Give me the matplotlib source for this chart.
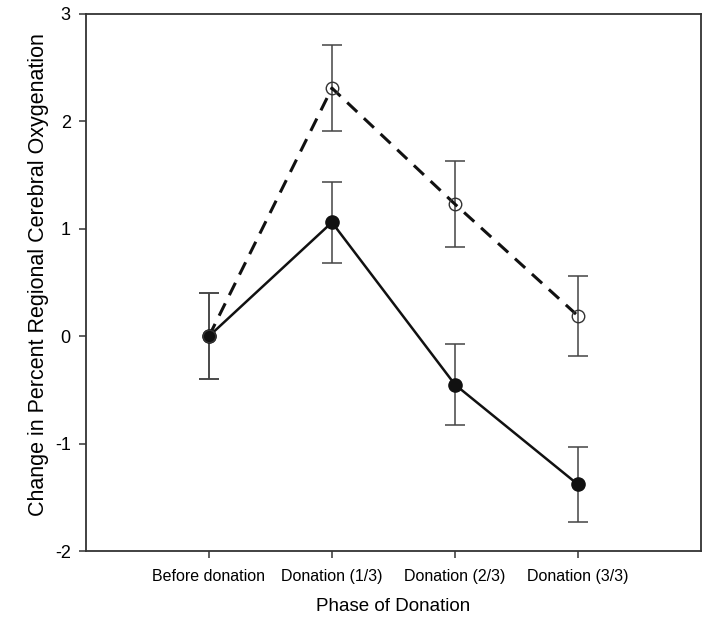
import matplotlib
matplotlib.use("Agg")
import matplotlib.pyplot as plt
import numpy as np

phases = ["Before donation", "Donation (1/3)", "Donation (2/3)", "Donation (3/3)"]
filled_mean = [0.0, 1.06, -0.45, -1.38]
filled_err = [0.40, 0.38, 0.38, 0.35]
open_mean = [0.0, 2.31, 1.23, 0.19]
open_err = [0.40, 0.40, 0.40, 0.37]
yticks = [-2, -1, 0, 1, 2, 3]

plt.rcParams['font.family'] = ['Liberation Sans', 'DejaVu Sans']

fig = plt.figure(figsize=(7.13, 6.36), dpi=100)
ax = fig.add_axes([0.1206, 0.1336, 0.983 - 0.1206, 0.978 - 0.1336])

x = np.arange(len(phases))

# open circles, dashed
ax.errorbar(x, open_mean, yerr=open_err, fmt='none', ecolor='#444444',
            elinewidth=1.1, capsize=7, capthick=1.1, zorder=2)
ax.plot(x, open_mean, color='#111111', lw=2.2, dashes=(4.5, 3.0), zorder=3)
ax.plot(x, open_mean, linestyle='none', marker='o', markersize=9,
        markerfacecolor='none', markeredgecolor='#333333', markeredgewidth=1.0, zorder=4)

# filled circles, solid
ax.errorbar(x, filled_mean, yerr=filled_err, fmt='none', ecolor='#444444',
            elinewidth=1.1, capsize=7, capthick=1.1, zorder=2)
ax.plot(x, filled_mean, color='#111111', lw=1.8, zorder=3,
        marker='o', markersize=9.5, markerfacecolor='#111111', markeredgecolor='#111111')

ax.set_xlim(-1, 4)
ax.set_ylim(-2, 3)
ax.set_yticks(yticks)
ax.set_yticklabels([str(v) for v in yticks], fontsize=13)
ax.set_xticks(x)
ax.set_xticklabels(phases, fontsize=11.5)

for s in ax.spines.values():
    s.set_color('#333333')
    s.set_linewidth(1.3)

ax.tick_params(axis='both', direction='out', length=5, width=1.1, color='#333333')
ax.tick_params(axis='y', pad=6)
ax.tick_params(axis='x', pad=8)

ax.set_xlabel("Phase of Donation", fontsize=13.5, labelpad=10)
ax.set_ylabel("Change in Percent Regional Cerebral Oxygenation", fontsize=15.5)
ax.yaxis.set_label_coords(-0.06, 0.515)

fig.savefig("out.png", dpi=100)
